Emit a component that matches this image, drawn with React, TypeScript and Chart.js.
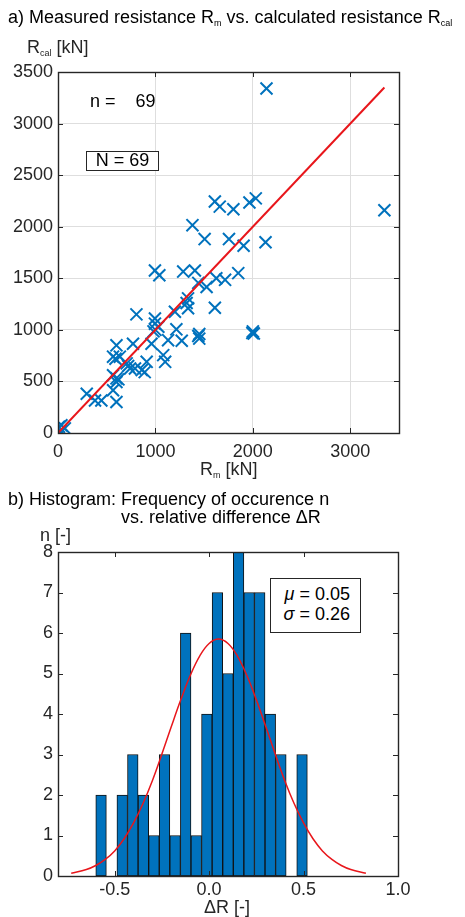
import React, { useEffect, useRef } from "react";
import { Chart, registerables } from "chart.js";

Chart.register(...registerables);

// ---------- (a) scatter data ----------
const measuredR = [
  2140, 3350, 1610, 1660, 1800, 1965, 2030, 1380, 1505, 1755, 1905, 2130,
  995, 1040, 1285, 1405, 1440, 1525, 1625, 1715, 1850, 1335, 1335, 1200,
  1610, 805, 995, 995, 1030, 1215, 980, 1130, 1270, 1450, 1450, 2000, 2010,
  600, 770, 960, 565, 635, 705, 740, 790, 860, 910, 890, 1080, 1100, 565,
  600, 600, 565, 295, 380, 445, 600, 35, 70, 25, 620, 10, 1440, 1995, 1320,
  1000, 720, 590,
];
const calculatedR = [
  3340, 2160, 2245, 2195, 2170, 2235, 2275, 2015, 1880, 1880, 1815, 1850,
  1575, 1530, 1565, 1575, 1455, 1415, 1500, 1485, 1550, 1305, 1210, 1175,
  1215, 1150, 1110, 1060, 1030, 1005, 985, 900, 895, 960, 915, 985, 965,
  850, 865, 865, 740, 740, 675, 625, 625, 610, 690, 590, 755, 690, 560,
  530, 495, 415, 380, 315, 315, 300, 75, 45, 20, 520, 60, 940, 970, 1260,
  1000, 650, 720,
];
const fitLineX = [0, 3350];
const fitLineY = [0, 3350];
const scatterXTicks = [0, 1000, 2000, 3000];
const scatterYTicks = [0, 500, 1000, 1500, 2000, 2500, 3000, 3500];

// ---------- (b) histogram data ----------
const binCenters = [
  -0.572, -0.516, -0.46, -0.404, -0.348, -0.292, -0.236, -0.18, -0.124,
  -0.068, -0.012, 0.044, 0.1, 0.156, 0.212, 0.268, 0.324, 0.38, 0.436, 0.492,
];
const binCounts = [2, 0, 2, 3, 2, 1, 3, 1, 6, 1, 4, 7, 5, 8, 7, 7, 4, 3, 0, 3];
const normalX = [
  -0.73, -0.65, -0.6, -0.55, -0.5, -0.45, -0.4, -0.35, -0.3, -0.25, -0.2,
  -0.15, -0.1, -0.05, 0, 0.05, 0.1, 0.15, 0.2, 0.25, 0.3, 0.35, 0.4, 0.45,
  0.5, 0.55, 0.6, 0.65, 0.7, 0.75, 0.83,
];
const normalY = [
  0.07, 0.16, 0.26, 0.41, 0.62, 0.92, 1.31, 1.79, 2.36, 3.01, 3.69, 4.35,
  4.95, 5.43, 5.74, 5.85, 5.74, 5.43, 4.95, 4.35, 3.69, 3.01, 2.36, 1.79,
  1.31, 0.92, 0.62, 0.41, 0.26, 0.16, 0.07,
];
const histXTicks = [-0.5, 0, 0.5, 1.0];
const histYTicks = [0, 1, 2, 3, 4, 5, 6, 7, 8];

const FONT = '"Liberation Sans", Arial, Helvetica, sans-serif';
const AXIS_COLOR = "#262626";
const BLUE = "#0072BD";
const RED = "#e8161b";

const framePlugin = (tickLen: number) => ({
  id: "frame",
  afterDraw(chart: any) {
    const { ctx, chartArea: a, scales } = chart;
    const xs = scales.x;
    const ys = scales.y;
    ctx.save();
    ctx.strokeStyle = AXIS_COLOR;
    ctx.lineWidth = 1;
    ctx.beginPath();
    xs.ticks.forEach((t: any) => {
      const p = Math.round(xs.getPixelForValue(t.value)) + 0.5;
      ctx.moveTo(p, a.top);
      ctx.lineTo(p, a.top + tickLen);
      ctx.moveTo(p, a.bottom);
      ctx.lineTo(p, a.bottom - tickLen);
    });
    ys.ticks.forEach((t: any) => {
      const p = Math.round(ys.getPixelForValue(t.value)) + 0.5;
      ctx.moveTo(a.left, p);
      ctx.lineTo(a.left + tickLen, p);
      ctx.moveTo(a.right, p);
      ctx.lineTo(a.right - tickLen, p);
    });
    ctx.stroke();
    ctx.lineWidth = 1.4;
    ctx.strokeRect(
      Math.round(a.left) + 0.5,
      Math.round(a.top) + 0.5,
      Math.round(a.right - a.left),
      Math.round(a.bottom - a.top)
    );
    ctx.restore();
  },
});

const setTicks = (vals: number[]) => (scale: any) => {
  scale.ticks = vals.map((v) => ({ value: v }));
};

const abs = (left: number, top: number, extra: any = {}): any => ({
  position: "absolute",
  left,
  top,
  whiteSpace: "pre",
  lineHeight: 1,
  fontFamily: FONT,
  ...extra,
});

export default function App() {
  const c1 = useRef<HTMLCanvasElement>(null);
  const c2 = useRef<HTMLCanvasElement>(null);

  useEffect(() => {
    const tickFont = { family: FONT, size: 18 };
    const chart1 = new Chart(c1.current as HTMLCanvasElement, {
      type: "scatter",
      data: {
        datasets: [
          {
            type: "line",
            data: fitLineX.map((x, i) => ({ x, y: fitLineY[i] })),
            borderColor: RED,
            borderWidth: 2,
            pointRadius: 0,
            showLine: true,
            order: 0,
          } as any,
          {
            type: "scatter",
            data: measuredR.map((x, i) => ({ x, y: calculatedR[i] })),
            pointStyle: "crossRot",
            pointRadius: 8.5,
            borderColor: BLUE,
            backgroundColor: BLUE,
            borderWidth: 2,
            order: 1,
          } as any,
        ],
      },
      options: {
        animation: false,
        responsive: false,
        events: [],
        layout: { padding: { left: 0, top: 72, right: 66, bottom: 0 } },
        plugins: { legend: { display: false }, tooltip: { enabled: false } },
        scales: {
          x: {
            type: "linear",
            min: 0,
            max: 3500,
            afterBuildTicks: setTicks(scatterXTicks),
            afterFit: (s: any) => {
              s.height = 47;
            },
            grid: { color: "#dedede", drawTicks: false, lineWidth: 1 },
            border: { display: false },
            ticks: {
              color: AXIS_COLOR,
              font: tickFont,
              padding: 8,
              maxRotation: 0,
              callback: (v: any) => String(v),
            },
          },
          y: {
            type: "linear",
            min: 0,
            max: 3500,
            afterBuildTicks: setTicks(scatterYTicks),
            afterFit: (s: any) => {
              s.width = 58;
            },
            grid: { color: "#dedede", drawTicks: false, lineWidth: 1 },
            border: { display: false },
            ticks: {
              color: AXIS_COLOR,
              font: tickFont,
              padding: 5,
              callback: (v: any) => String(v),
            },
          },
        },
      } as any,
      plugins: [framePlugin(5)],
    });

    const chart2 = new Chart(c2.current as HTMLCanvasElement, {
      type: "bar",
      data: {
        datasets: [
          {
            type: "line",
            data: normalX.map((x, i) => ({ x, y: normalY[i] })),
            borderColor: RED,
            borderWidth: 1.5,
            pointRadius: 0,
            tension: 0.4,
            order: 0,
          } as any,
          {
            type: "bar",
            data: binCenters.map((x, i) => ({ x, y: binCounts[i] })),
            backgroundColor: BLUE,
            borderColor: "#111111",
            borderWidth: 1,
            borderSkipped: false,
            barPercentage: 1,
            categoryPercentage: 1,
            order: 1,
          } as any,
        ],
      },
      options: {
        animation: false,
        responsive: false,
        events: [],
        layout: { padding: { left: 0, top: 72, right: 67, bottom: 0 } },
        plugins: { legend: { display: false }, tooltip: { enabled: false } },
        scales: {
          x: {
            type: "linear",
            min: -0.8,
            max: 1.0,
            offset: false,
            afterBuildTicks: setTicks(histXTicks),
            afterFit: (s: any) => {
              s.height = 41;
            },
            grid: { display: false, drawTicks: false },
            border: { display: false },
            ticks: {
              color: AXIS_COLOR,
              font: tickFont,
              padding: 3,
              maxRotation: 0,
              callback: (v: any) => Number(v).toFixed(1),
            },
          },
          y: {
            type: "linear",
            min: 0,
            max: 8,
            afterBuildTicks: setTicks(histYTicks),
            afterFit: (s: any) => {
              s.width = 58;
            },
            grid: { display: false, drawTicks: false },
            border: { display: false },
            ticks: {
              color: AXIS_COLOR,
              font: tickFont,
              padding: 5,
              callback: (v: any) => String(v),
            },
          },
        },
      } as any,
      plugins: [framePlugin(5)],
    });

    return () => {
      chart1.destroy();
      chart2.destroy();
    };
  }, []);

  const sub: any = { fontSize: 9, verticalAlign: "-3px" };
  const fs = 18;

  return (
    <div
      style={{
        position: "absolute",
        left: 0,
        top: 0,
        width: 465,
        height: 917,
        background: "#ffffff",
        overflow: "hidden",
        fontFamily: FONT,
      }}
    >
      <canvas
        ref={c1}
        width={465}
        height={480}
        style={{ position: "absolute", left: 0, top: 0, width: 465, height: 480 }}
      />
      <canvas
        ref={c2}
        width={465}
        height={437}
        style={{ position: "absolute", left: 0, top: 480, width: 465, height: 437 }}
      />

      {/* (a) texts */}
      <div style={abs(8, 8, { fontSize: fs, color: "#000" })}>
        a) Measured resistance R<span style={sub}>m</span> vs. calculated resistance R
        <span style={sub}>cal</span>
      </div>
      <div style={abs(27, 38, { fontSize: fs, color: AXIS_COLOR })}>
        R<span style={sub}>cal</span> [kN]
      </div>
      <div style={abs(90, 92, { fontSize: fs, color: "#000" })}>{"n =    69"}</div>
      <div
        style={abs(86, 151, {
          width: 73,
          height: 20,
          boxSizing: "border-box",
          border: "1px solid #262626",
          background: "#fff",
          fontSize: fs,
          lineHeight: "17px",
          textAlign: "center",
          color: "#000",
        })}
      >
        N = 69
      </div>
      <div style={abs(200, 460, { fontSize: fs, color: AXIS_COLOR })}>
        R<span style={sub}>m</span> [kN]
      </div>

      {/* (b) texts */}
      <div style={abs(8, 490, { fontSize: fs, color: "#000" })}>
        b) Histogram: Frequency of occurence n
      </div>
      <div style={abs(121, 508, { fontSize: fs, color: "#000" })}>
        vs. relative difference ΔR
      </div>
      <div style={abs(40, 526, { fontSize: fs, color: AXIS_COLOR })}>n [-]</div>
      <div style={abs(204, 898, { fontSize: fs, color: AXIS_COLOR })}>ΔR [-]</div>
      <div
        style={abs(270, 578, {
          width: 91,
          height: 55,
          boxSizing: "border-box",
          border: "1px solid #262626",
          background: "#fff",
          fontSize: fs,
          color: "#000",
        })}
      >
        <div style={{ position: "absolute", right: 10, top: 6, lineHeight: 1 }}>
          <i>μ</i> = 0.05
        </div>
        <div style={{ position: "absolute", right: 10, top: 26, lineHeight: 1 }}>
          <i>σ</i> = 0.26
        </div>
      </div>
    </div>
  );
}
